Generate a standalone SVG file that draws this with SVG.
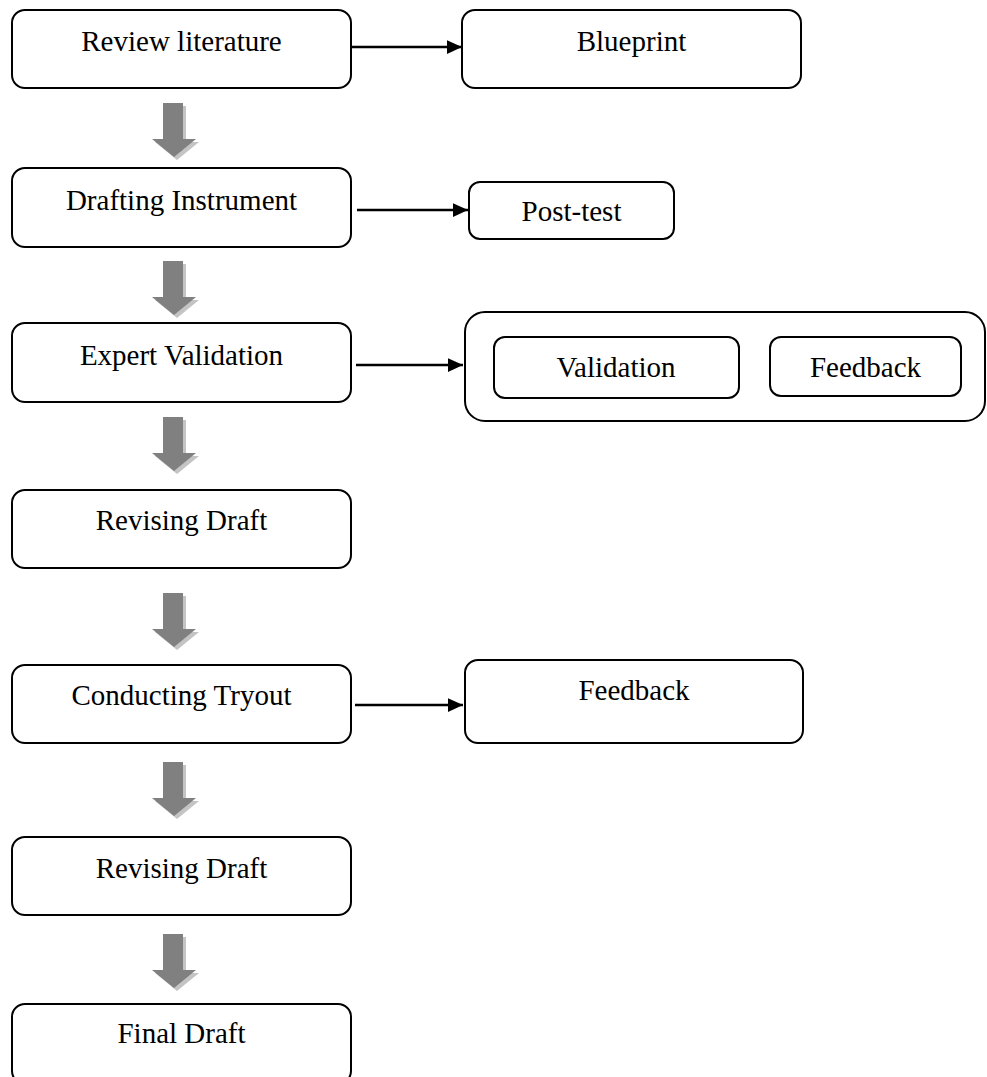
<svg xmlns="http://www.w3.org/2000/svg" width="987" height="1077" viewBox="0 0 987 1077">
<defs>
<style>
.box{fill:#fff;stroke:#000;stroke-width:2}
.t{font-family:"Liberation Serif","Times New Roman",serif;font-size:29px;fill:#000;text-anchor:middle}
.ln{stroke:#000;stroke-width:2.5;fill:none}
.ba{fill:#808080}
.bs{fill:#c4c4c4}
</style>
<marker id="ah" viewBox="0 0 10 10" refX="10" refY="5" markerWidth="6" markerHeight="5.5" markerUnits="strokeWidth" orient="auto" preserveAspectRatio="none">
<path d="M0,0 L10,5 L0,10 z" fill="#000"/>
</marker>
<g id="blk">
<path class="bs" d="M166,3 L186,3 L186,39 L199,39 L177,57 L155,39 L166,39 z"/>
<path class="ba" d="M163,0 L183,0 L183,36 L196,36 L174,54 L152,36 L163,36 z"/>
</g>
</defs>
<rect width="987" height="1077" fill="#fff"/>

<g id="connectors">
<line class="ln" x1="352" y1="47" x2="462" y2="47" marker-end="url(#ah)"/>
<line class="ln" x1="357" y1="210" x2="468" y2="210" marker-end="url(#ah)"/>
<line class="ln" x1="356" y1="365" x2="463" y2="365" marker-end="url(#ah)"/>
<line class="ln" x1="355" y1="705" x2="463" y2="705" marker-end="url(#ah)"/>
<use href="#blk" x="0" y="103"/>
<use href="#blk" x="0" y="261"/>
<use href="#blk" x="0" y="417"/>
<use href="#blk" x="0" y="593"/>
<use href="#blk" x="0" y="762"/>
<use href="#blk" x="0" y="934"/>
</g>

<g id="review">
<rect class="box" x="12" y="10" width="339" height="78" rx="13"/>
<text class="t" x="181.5" y="51">Review literature</text>
</g>
<g id="blueprint">
<rect class="box" x="462" y="10" width="339" height="78" rx="13"/>
<text class="t" x="631.5" y="51">Blueprint</text>
</g>
<g id="drafting">
<rect class="box" x="12" y="168" width="339" height="79" rx="13"/>
<text class="t" x="181.5" y="210">Drafting Instrument</text>
</g>
<g id="posttest">
<rect class="box" x="469" y="182" width="205" height="57" rx="11"/>
<text class="t" x="571.5" y="221">Post-test</text>
</g>
<g id="expert">
<rect class="box" x="12" y="323" width="339" height="79" rx="13"/>
<text class="t" x="181.5" y="365">Expert Validation</text>
</g>
<g id="valgroup">
<rect class="box" x="465" y="312" width="520" height="109" rx="20"/>
</g>
<g id="validation">
<rect class="box" x="494" y="337" width="245" height="61" rx="11"/>
<text class="t" x="616" y="377">Validation</text>
</g>
<g id="feedback1">
<rect class="box" x="770" y="337" width="191" height="59" rx="11"/>
<text class="t" x="865.5" y="377">Feedback</text>
</g>
<g id="revising1">
<rect class="box" x="12" y="490" width="339" height="78" rx="13"/>
<text class="t" x="181.5" y="530">Revising Draft</text>
</g>
<g id="conducting">
<rect class="box" x="12" y="665" width="339" height="78" rx="13"/>
<text class="t" x="181.5" y="705">Conducting Tryout</text>
</g>
<g id="feedback2">
<rect class="box" x="465" y="660" width="338" height="83" rx="13"/>
<text class="t" x="634" y="700">Feedback</text>
</g>
<g id="revising2">
<rect class="box" x="12" y="837" width="339" height="78" rx="13"/>
<text class="t" x="181.5" y="878">Revising Draft</text>
</g>
<g id="final">
<rect class="box" x="12" y="1004" width="339" height="80" rx="13"/>
<text class="t" x="181.5" y="1043">Final Draft</text>
</g>
</svg>
